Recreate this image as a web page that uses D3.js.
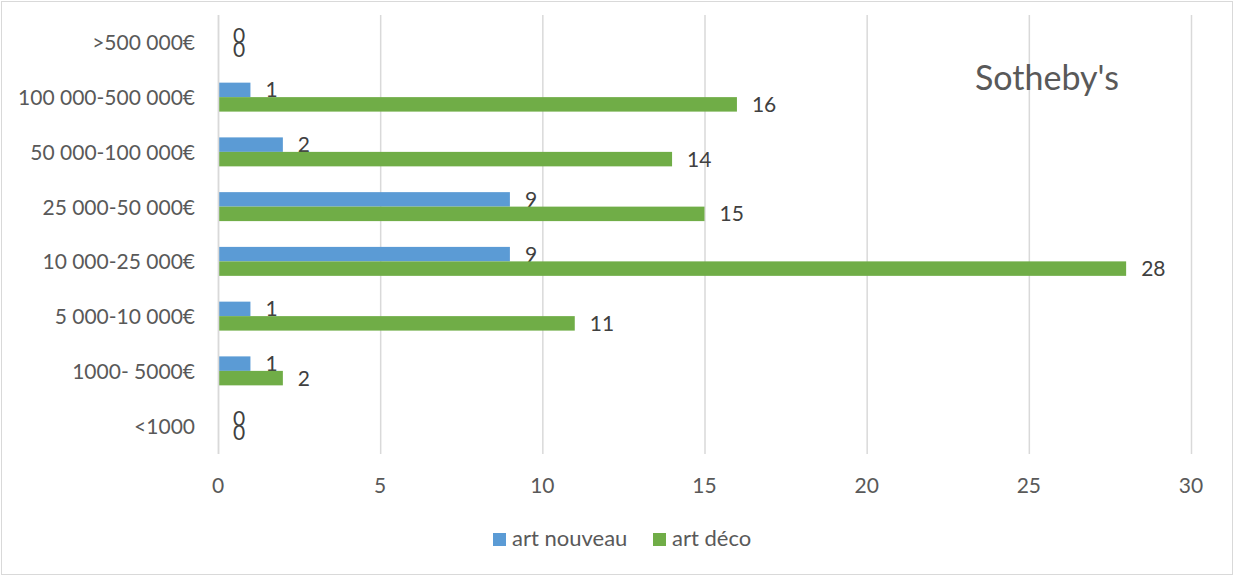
<!DOCTYPE html>
<html><head><meta charset="utf-8">
<script src="https://cdn.jsdelivr.net/npm/d3@7"></script>
<style>body{margin:0;background:#fff;} text{font-family:Lato, "Open Sans", sans-serif;}</style>
</head><body>
<svg id="c" width="1235" height="577"></svg>
<script>
const categories = [">500 000€","100 000-500 000€","50 000-100 000€","25 000-50 000€","10 000-25 000€","5 000-10 000€","1000- 5000€","<1000"];
const artNouveau = [0,1,2,9,9,1,1,0];
const artDeco = [0,16,14,15,28,11,2,0];
const seriesNames = ["art nouveau","art déco"];
const seriesColors = ["#5b9bd5","#70ad47"];
const xTicks = [0,5,10,15,20,25,30];
const title = "Sotheby's";

const svg = d3.select("#c");
svg.append("rect").attr("x",1.5).attr("y",1.5).attr("width",1231).attr("height",573)
  .attr("fill","#fff").attr("stroke","#d9d9d9");

const x = d3.scaleLinear().domain([0,30]).range([218,1191]);
const y = d3.scaleBand().domain(categories).range([15,453]);
const inner = d3.scaleBand().domain([0,1]).range([0,y.bandwidth()]).paddingOuter(0.89).paddingInner(0);

// gridlines
svg.append("g").selectAll("line").data(xTicks).join("line")
  .attr("x1",d=>x(d)+0.5).attr("x2",d=>x(d)+0.5).attr("y1",15).attr("y2",454)
  .attr("stroke","#d9d9d9").attr("stroke-width",1.5);

// x tick labels
svg.append("g").selectAll("text").data(xTicks).join("text")
  .attr("x",d=>x(d)).attr("y",493).attr("text-anchor","middle")
  .attr("font-size",21).attr("fill","#595959").text(d=>d);

// category labels
svg.append("g").selectAll("text").data(categories).join("text")
  .attr("x",195).attr("y",d=>y(d)+y.bandwidth()/2+8)
  .attr("text-anchor","end").attr("font-size",21).attr("fill","#595959").text(d=>d);

const series = [artNouveau, artDeco];
series.forEach((vals,si)=>{
  const g = svg.append("g");
  g.selectAll("rect").data(vals).join("rect")
    .attr("x",x(0)).attr("y",(d,i)=>y(categories[i])+inner(si))
    .attr("width",d=>x(d)-x(0)).attr("height",inner.bandwidth())
    .attr("fill",seriesColors[si]);
  g.selectAll("text").data(vals).join("text")
    .attr("x",d=>x(d)+15).attr("y",(d,i)=>y(categories[i])+inner(si)+inner.bandwidth()/2+7.5)
    .attr("font-size",21).attr("fill","#404040").text(d=>d);
});

// axis line
svg.append("line").attr("x1",x(0)+0.5).attr("x2",x(0)+0.5).attr("y1",15).attr("y2",454)
  .attr("stroke","#d9d9d9").attr("stroke-width",1.5);

// title
svg.append("text").attr("x",975).attr("y",90)
  .attr("font-size",34).attr("fill","#595959").text(title);

// legend
const leg = svg.append("g");
const legX = [493,653];
seriesNames.forEach((n,i)=>{
  leg.append("rect").attr("x",legX[i]).attr("y",533).attr("width",13).attr("height",13).attr("fill",seriesColors[i]);
  leg.append("text").attr("x",legX[i]+19).attr("y",546).attr("font-size",22).attr("fill","#595959").text(n);
});
</script>
</body></html>
